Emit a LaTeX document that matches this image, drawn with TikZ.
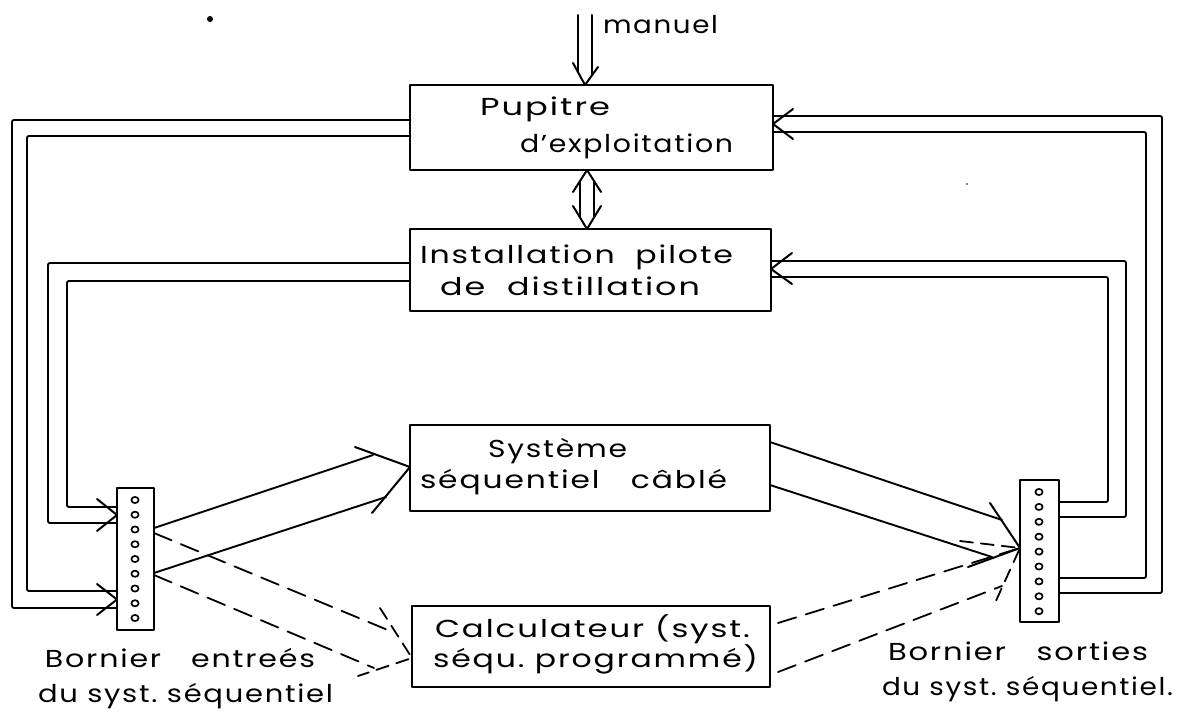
\documentclass[tikz,border=0pt]{standalone}
\usepackage{fontspec}
\usepackage{graphicx}
\setmainfont{Poppins}[LetterSpace=6]
\newcommand{\fitw}[2]{\resizebox{#1}{\height}{#2}}
\begin{document}
\begin{tikzpicture}[x=1pt,y=-1pt,line join=round,line cap=round,
  box/.style={draw,line width=2pt,inner sep=0pt,outer sep=0pt},
  lbl/.style={anchor=base west,inner sep=0pt,outer sep=0pt,font=\fontsize{24.5}{24.5}\selectfont},
  wire/.style={line width=1.9pt,rounded corners=2pt},
  tipline/.style={line width=2pt},
  dsh/.style={line width=1.8pt,dash pattern=on 19pt off 10pt},
  dshv/.style={line width=1.8pt,dash pattern=on 13pt off 8pt},
  hole/.style={line width=1.7pt}]
\useasboundingbox (0,0) rectangle (1179,712);

% boxes
\node[box,minimum width=363pt,minimum height=85pt] (pup) at (591.5,127.5) {};
\node[box,minimum width=361pt,minimum height=82pt] (inst) at (590.5,270) {};
\node[box,minimum width=360pt,minimum height=86pt] (sys) at (590,468) {};
\node[box,minimum width=358pt,minimum height=81pt] (calc) at (591,646.5) {};
\node[box,minimum width=37pt,minimum height=142pt] (bl) at (135.5,559) {};
\node[box,minimum width=39pt,minimum height=142pt] (br) at (1039.5,551) {};

% texts
\node[lbl] (tman) at (603,33) {\fitw{115pt}{manuel}};
\node[lbl] (tpup1) at (480,115) {\fitw{130pt}{Pupitre}};
\node[lbl] (tpup2) at (520,152) {\fitw{213pt}{d'exploitation}};
\node[lbl] (tin1) at (420,263) {\fitw{313pt}{Installation\ \ pilote}};
\node[lbl] (tin2) at (440,295) {\fitw{260pt}{de\ \ distillation}};
\node[lbl] (tsy1) at (488,457) {\fitw{139pt}{Système}};
\node[lbl] (tsy2) at (420,488) {\fitw{307pt}{séquentiel\quad câblé}};
\node[lbl] (tca1) at (435,637) {\fitw{315pt}{Calculateur (syst.}};
\node[lbl] (tca2) at (433,667) {\fitw{325pt}{séqu.\ programmé)}};
\node[lbl] (tbl1) at (45,667) {\fitw{270pt}{Bornier\quad entreés}};
\node[lbl] (tbl2) at (38,702) {\fitw{295pt}{du syst.\ séquentiel}};
\node[lbl] (tbr1) at (888,660) {\fitw{260pt}{Bornier\quad sorties}};
\node[lbl] (tbr2) at (882,695) {\fitw{291pt}{du syst.\ séquentiel.}};

% bornier holes
\foreach \i in {0,...,8} {
  \draw[hole] (135,{500+14.75*\i}) ellipse (3.6pt and 3.1pt);
  \draw[hole] (1039,{492+14.9*\i}) ellipse (3.6pt and 3.1pt);
}

% manuel input (double arrow)
\coordinate (m1) at (578,15);
\coordinate (m2) at (592,15);
\draw[tipline] (m1) -- (578,71);
\draw[tipline] (m2) -- (592,74);
\draw[tipline] (573,63) -- (pup.north -| 585,0) -- (598,67);

% double-headed arrow between Pupitre and Installation
\draw[tipline] (580,181) -- (580,217.5);
\draw[tipline] (594,181) -- (594,217.5);
\draw[tipline] (573,192) -- (pup.south -| 587,0) -- (601,192);
\draw[tipline] (573,206) -- (inst.north -| 587,0) -- (601,206);

% left wires to input bornier
\draw[wire] (pup.west |- 0,120) -| (12,608) -- (bl.west |- 0,608);
\draw[wire] (pup.west |- 0,136) -| (27,591) -- (bl.west |- 0,591);
\draw[wire] (inst.west |- 0,263) -| (48,523) -- (bl.west |- 0,523);
\draw[wire] (inst.west |- 0,281) -| (67,507) -- (bl.west |- 0,507);
\draw[tipline] (97,499) -- (bl.west |- 0,515) -- (97,531);
\draw[tipline] (97,584) -- (bl.west |- 0,599.5) -- (97,615);

% right wires from output bornier
\draw[wire] (br.east |- 0,593) -| (1162,116) -- (pup.east |- 0,116);
\draw[wire] (br.east |- 0,578) -| (1146,132) -- (pup.east |- 0,132);
\draw[wire] (br.east |- 0,517) -| (1126,261) -- (inst.east |- 0,261);
\draw[wire] (br.east |- 0,502) -| (1108,277) -- (inst.east |- 0,277);
\draw[tipline] (793,109) -- (pup.east |- 0,124) -- (793,139);
\draw[tipline] (792,253) -- (inst.east |- 0,269) -- (792,284);

% input bornier -> Systeme
\draw[wire] (bl.east |- 0,528) -- (373,455);
\draw[wire] (bl.east |- 0,573) -- (386,497);
\draw[tipline] (355,447) -- (sys.west |- 0,467) -- (372,513);

% Systeme -> output bornier
\draw[wire] (sys.east |- 0,442) -- (1002,520);
\draw[wire] (sys.east |- 0,485) -- (992,557);
\draw[tipline] (990,503) -- (br.west |- 0,548) -- (968,567);

% input bornier -> Calculateur (dashed)
\draw[dsh] (bl.east |- 0,533) -- (395,633);
\draw[dsh] (bl.east |- 0,575) -- (374,668);
\draw[dshv] (380,608) -- (calc.west |- 0,658) -- (358,676);

% Calculateur -> output bornier (dashed)
\draw[dsh] (778,623) -- (br.west |- 0,548);
\draw[dsh] (778,672) -- (1002,586);
\draw[dshv] (960,541) -- (br.west |- 0,548) -- (995,603);

% specks
\fill (210,19) circle (3pt);
\fill (967,184) circle (0.8pt);
\end{tikzpicture}
\end{document}
